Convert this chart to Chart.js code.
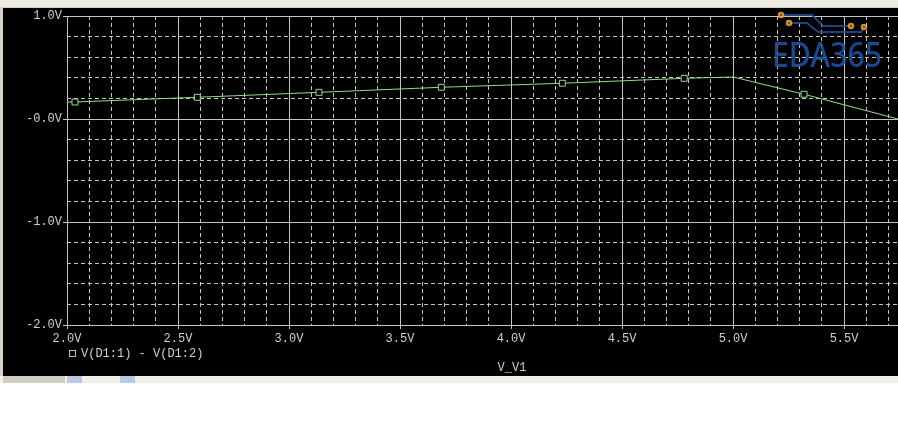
<!DOCTYPE html>
<html>
<head>
<meta charset="utf-8">
<script src="https://cdn.jsdelivr.net/npm/chart.js@4"></script>
<style>
  html, body { margin: 0; padding: 0; background: #fff; }
  canvas { display: block; }
</style>
</head>
<body>
<canvas id="probe" width="898" height="429"></canvas>
<script>
  // sweep of V_V1 and the trace V(D1:1) - V(D1:2)
  const sweepV = [2.0, 2.036, 2.587, 3.135, 3.686, 4.231, 4.78, 5.0, 5.32, 5.743];
  const diodeV = [0.165, 0.165, 0.211, 0.259, 0.308, 0.347, 0.395, 0.408, 0.240, 0.0];
  const markerOn = [false, true, true, true, true, true, true, false, true, false];

  const xTicks = [2.0, 2.5, 3.0, 3.5, 4.0, 4.5, 5.0, 5.5];
  const xTickLabels = ['2.0V', '2.5V', '3.0V', '3.5V', '4.0V', '4.5V', '5.0V', '5.5V'];
  const yTicks = [1, 0, -1, -2];
  const yTickLabels = ['1.0V', '-0.0V', '-1.0V', '-2.0V'];

  const traceName = 'V(D1:1) - V(D1:2)';
  const xTitle = 'V_V1';

  const GRID = '#c4c4c4';
  const TEXT = '#cfcfcf';
  const GREEN = '#93dc8c';
  const monoFont = { family: '"Liberation Mono", "DejaVu Sans Mono", monospace', size: 12 };

  const isMajor = (v, step) => Math.abs(v / step - Math.round(v / step)) < 1e-6;

  const frame = {
    id: 'frame',
    beforeDraw(chart) {
      const c = chart.ctx;
      c.save();
      c.fillStyle = '#ffffff';
      c.fillRect(0, 0, 898, 429);
      // window chrome
      c.fillStyle = '#eeebe2';
      c.fillRect(0, 0, 898, 8);
      c.fillStyle = '#d6d3ca';
      c.fillRect(0, 7, 898, 1);
      c.fillStyle = '#d4d0c8';
      c.fillRect(0, 8, 3, 368);
      c.fillStyle = '#000000';
      c.fillRect(3, 8, 895, 368);
      c.fillStyle = '#f1efe9';
      c.fillRect(0, 376, 898, 7);
      c.fillStyle = '#cfccc4';
      c.fillRect(3, 376, 62, 7);
      c.fillStyle = '#b9c8e8';
      c.fillRect(67, 376, 15, 7);
      c.fillRect(120, 376, 15, 7);
      c.restore();
    },
    beforeDatasetsDraw(chart) {
      // EDA365 watermark
      const c = chart.ctx;
      c.save();
      c.globalAlpha = 0.85;
      c.strokeStyle = '#1f4f9a';
      c.lineWidth = 2;
      c.beginPath();
      c.moveTo(781, 15); c.lineTo(812, 15); c.lineTo(823, 26); c.lineTo(850, 26);
      c.moveTo(789, 23); c.lineTo(807, 23); c.lineTo(818, 32); c.lineTo(861, 32); c.lineTo(864, 27);
      c.stroke();
      [[781, 15], [789, 23], [851, 26], [864, 27]].forEach(([x, y]) => {
        c.beginPath();
        c.arc(x, y, 3.3, 0, Math.PI * 2);
        c.fillStyle = '#f2a532';
        c.fill();
        c.beginPath();
        c.arc(x, y, 1.1, 0, Math.PI * 2);
        c.fillStyle = '#5a3a10';
        c.fill();
      });
      c.font = '500 34px "Noto Sans", "Open Sans", sans-serif';
      c.fillStyle = '#1d56a8';
      c.textBaseline = 'alphabetic';
      const w = c.measureText('EDA365').width;
      c.translate(772, 67);
      c.scale(110 / w, 1);
      c.fillText('EDA365', 0, 0);
      c.restore();
    },
    afterDraw(chart) {
      const c = chart.ctx;
      c.save();
      c.font = '12px ' + monoFont.family;
      c.fillStyle = TEXT;
      c.textBaseline = 'middle';
      c.textAlign = 'left';
      c.fillText(traceName, 81, 354);
      c.textAlign = 'center';
      c.fillText(xTitle, 512, 368);
      c.strokeStyle = GREEN;
      c.lineWidth = 1;
      c.strokeRect(69.5, 350.5, 6, 6);
      c.restore();
    }
  };

  const ctx = document.getElementById('probe').getContext('2d');
  const probeChart = new Chart(ctx, {
    type: 'line',
    data: {
      datasets: [{
        label: traceName,
        data: sweepV.map((v, i) => ({ x: v, y: diodeV[i] })),
        borderColor: GREEN,
        borderWidth: 1,
        backgroundColor: '#000000',
        pointStyle: 'rect',
        pointRadius: markerOn.map(m => (m ? 4.2 : 0)),
        pointBorderWidth: 1,
        pointBorderColor: GREEN,
        tension: 0,
        fill: false
      }]
    },
    options: {
      responsive: false,
      animation: false,
      layout: { padding: { top: 16, right: 0, left: 0, bottom: 0 } },
      plugins: {
        legend: { display: false },
        tooltip: { enabled: false }
      },
      scales: {
        xMinor: {
          type: 'linear',
          position: 'bottom',
          min: 2.0, max: 5.743,
          ticks: { display: false, stepSize: 0.1, includeBounds: false },
          grid: {
            drawTicks: false,
            color: c => isMajor(c.tick.value, 0.5) ? 'rgba(0,0,0,0)' : GRID,
            lineWidth: 1
          },
          border: { display: false, dash: [4, 3] },
          afterFit: s => { s.height = 0; }
        },
        yMinor: {
          type: 'linear',
          position: 'left',
          min: -2, max: 1,
          ticks: { display: false, stepSize: 0.2, includeBounds: false },
          grid: {
            drawTicks: false,
            color: c => isMajor(c.tick.value, 1) ? 'rgba(0,0,0,0)' : GRID,
            lineWidth: 1
          },
          border: { display: false, dash: [4, 3] },
          afterFit: s => { s.width = 0; }
        },
        x: {
          type: 'linear',
          position: 'bottom',
          min: 2.0, max: 5.743,
          afterBuildTicks: s => { s.ticks = xTicks.map(v => ({ value: v })); },
          ticks: {
            color: TEXT,
            font: monoFont,
            padding: 3,
            maxRotation: 0,
            autoSkip: false,
            callback: (v, i) => xTickLabels[i]
          },
          grid: { color: GRID, lineWidth: 1, tickLength: 4, tickColor: GRID },
          border: { display: true, color: GRID },
          afterFit: s => { s.height = 104; }
        },
        y: {
          type: 'linear',
          position: 'left',
          min: -2, max: 1,
          afterBuildTicks: s => { s.ticks = yTicks.map(v => ({ value: v })); },
          ticks: {
            color: TEXT,
            font: monoFont,
            padding: 1,
            autoSkip: false,
            callback: (v, i) => yTickLabels[i]
          },
          grid: { color: GRID, lineWidth: 1, tickLength: 4, tickColor: GRID },
          border: { display: true, color: GRID },
          afterFit: s => { s.width = 67; }
        }
      }
    },
    plugins: [frame]
  });
</script>
</body>
</html>
